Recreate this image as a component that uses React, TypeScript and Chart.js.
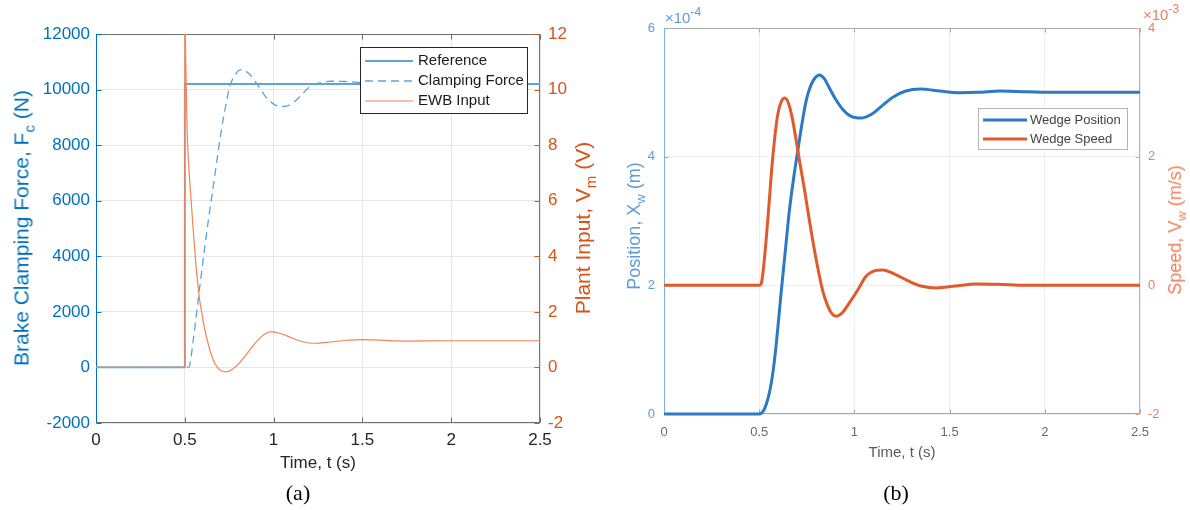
import React, { useEffect, useRef } from "react";
import { Chart, registerables } from "chart.js";

Chart.register(...registerables);

// ---------------- Panel (a) data ----------------
const timeTicks = [0, 0.5, 1, 1.5, 2, 2.5];
const forceTicks = [-2000, 0, 2000, 4000, 6000, 8000, 10000, 12000];
const voltTicks = [-2, 0, 2, 4, 6, 8, 10, 12];

const refTime = [0, 0.5, 0.5, 2.5];
const referenceForce = [0, 0, 10200, 10200];

const clampTime = [0, 0.52, 0.53, 0.545, 0.566, 0.59, 0.613, 0.636, 0.66, 0.683, 0.706, 0.73, 0.753, 0.785, 0.819, 0.86, 0.903, 0.94, 0.969, 1.01, 1.053, 1.1, 1.15, 1.204, 1.26, 1.32, 1.4, 1.5, 1.65, 1.8, 2.0, 2.5];
const clampingForce = [0, 0, 150, 850, 1950, 3200, 4350, 5450, 6500, 7550, 8550, 9400, 10100, 10550, 10715, 10580, 10230, 9880, 9640, 9440, 9390, 9480, 9760, 10100, 10240, 10300, 10290, 10250, 10200, 10180, 10200, 10200];

const ewbTime = [0, 0.5, 0.5, 0.5056, 0.513, 0.523, 0.534, 0.548, 0.562, 0.581, 0.6, 0.613, 0.64, 0.669, 0.7, 0.728, 0.76, 0.8, 0.847, 0.875, 0.9, 0.95, 0.99, 1.04, 1.1, 1.15, 1.2, 1.233, 1.3, 1.4, 1.5, 1.6, 1.75, 2.0, 2.5];
const ewbInput = [0, 0, 12.8, 10.95, 8.55, 7.2, 6.15, 4.9, 3.75, 2.55, 1.8, 1.35, 0.65, 0.14, -0.1, -0.16, -0.1, 0.11, 0.47, 0.7, 0.9, 1.2, 1.29, 1.22, 1.07, 0.95, 0.88, 0.87, 0.9, 0.97, 1.0, 0.98, 0.95, 0.96, 0.96];

// ---------------- Panel (b) data ----------------
const positionTicks = [0, 2, 4, 6]; // x 10^-4 m
const speedTicks = [-2, 0, 2, 4]; // x 10^-3 m/s

const posTime = [0, 0.5, 0.52, 0.54, 0.555, 0.57, 0.59, 0.614, 0.636, 0.658, 0.68, 0.702, 0.724, 0.746, 0.77, 0.795, 0.816, 0.84, 0.87, 0.9, 0.94, 0.98, 1.035, 1.09, 1.137, 1.2, 1.27, 1.347, 1.45, 1.553, 1.65, 1.763, 1.9, 2.079, 2.5];
const wedgePosition = [0, 0, 0.04, 0.18, 0.35, 0.6, 1.1, 1.85, 2.5, 3.15, 3.65, 4.08, 4.5, 4.86, 5.1, 5.23, 5.27, 5.22, 5.06, 4.9, 4.73, 4.63, 4.6, 4.66, 4.77, 4.92, 5.02, 5.05, 5.02, 4.995, 5.0, 5.02, 5.01, 5.0, 5.0];

const speedTime = [0, 0.5, 0.51, 0.52, 0.535, 0.55, 0.57, 0.596, 0.615, 0.635, 0.655, 0.675, 0.711, 0.74, 0.763, 0.79, 0.816, 0.835, 0.855, 0.875, 0.904, 0.935, 0.974, 1.02, 1.061, 1.1, 1.149, 1.2, 1.289, 1.35, 1.43, 1.53, 1.64, 1.75, 1.9, 2.5];
const wedgeSpeed = [0, 0, 0.02, 0.2, 0.66, 1.2, 1.95, 2.63, 2.85, 2.91, 2.82, 2.58, 1.95, 1.45, 1.02, 0.55, 0.15, -0.1, -0.28, -0.41, -0.48, -0.43, -0.27, -0.06, 0.14, 0.22, 0.24, 0.19, 0.06, -0.01, -0.04, -0.01, 0.02, 0.015, 0, 0];

const SANS = "'Liberation Sans', Arial, Helvetica, sans-serif";

const pts = (xs: number[], ys: number[]) => xs.map((x, i) => ({ x, y: ys[i] }));

type FrameOpts = { top: string; bottom: string; left: string; right: string; tick: number };

function makeFramePlugin(o: FrameOpts) {
  return {
    id: "frame",
    beforeDatasetsDraw(chart: any) {
      const { ctx, chartArea: a } = chart;
      const xs = chart.scales.x;
      const yl = chart.scales.y;
      const yr = chart.scales.y2;
      const L = Math.round(a.left) + 0.5;
      const R = Math.round(a.right) - 0.5;
      const T = Math.round(a.top) + 0.5;
      const B = Math.round(a.bottom) - 0.5;
      ctx.save();
      ctx.lineWidth = 1;
      const seg = (x0: number, y0: number, x1: number, y1: number, c: string) => {
        ctx.strokeStyle = c;
        ctx.beginPath();
        ctx.moveTo(x0, y0);
        ctx.lineTo(x1, y1);
        ctx.stroke();
      };
      seg(L, T, R, T, o.top);
      seg(L, B, R, B, o.bottom);
      xs.ticks.forEach((t: any) => {
        const px = Math.round(xs.getPixelForValue(t.value)) + 0.5;
        seg(px, B, px, B - o.tick, o.bottom);
        seg(px, T, px, T + o.tick, o.top);
      });
      yl.ticks.forEach((t: any) => {
        const py = Math.round(yl.getPixelForValue(t.value)) + 0.5;
        seg(L, py, L + o.tick, py, o.left);
      });
      yr.ticks.forEach((t: any) => {
        const py = Math.round(yr.getPixelForValue(t.value)) + 0.5;
        seg(R, py, R - o.tick, py, o.right);
      });
      seg(L, T - 0.5, L, B + 0.5, o.left);
      seg(R, T - 0.5, R, B + 0.5, o.right);
      ctx.restore();
    },
  };
}

type LegendOpts = {
  x: number; y: number; w: number; h: number; rowY: number[];
  lineX0: number; lineX1: number; textX: number; font: string; color: string; border: string;
};

function makeLegendPlugin(o: LegendOpts) {
  return {
    id: "boxLegend",
    afterDraw(chart: any) {
      const ctx = chart.ctx;
      ctx.save();
      ctx.fillStyle = "#ffffff";
      ctx.fillRect(o.x, o.y, o.w, o.h);
      ctx.strokeStyle = o.border;
      ctx.lineWidth = 1;
      ctx.strokeRect(o.x + 0.5, o.y + 0.5, o.w - 1, o.h - 1);
      chart.data.datasets.forEach((ds: any, i: number) => {
        const y = o.rowY[i];
        ctx.strokeStyle = ds.borderColor;
        ctx.lineWidth = ds.borderWidth;
        ctx.setLineDash(ds.borderDash || []);
        ctx.beginPath();
        ctx.moveTo(o.lineX0, y);
        ctx.lineTo(o.lineX1, y);
        ctx.stroke();
        ctx.setLineDash([]);
        ctx.fillStyle = o.color;
        ctx.font = o.font;
        ctx.textBaseline = "middle";
        ctx.textAlign = "left";
        ctx.fillText(ds.label, o.textX, y);
      });
      ctx.restore();
    },
  };
}

const setTicks = (arr: number[]) => (s: any) => {
  s.ticks = arr.map((v) => ({ value: v }));
};

// colours
const A_BLUE = "#0072BD";
const A_ORANGE = "#D95319";
const A_LINE_BLUE = "#5aa5dc";
const A_LINE_ORANGE = "#ef8456";
const A_GRID = "#e6e6e6";
const A_FRAME = "#6e6e6e";

const B_BLUE_LINE = "#2c79c4";
const B_ORANGE_LINE = "#e05a2b";
const B_BLUE_TXT = "#5f9bd6";
const B_ORANGE_TXT = "#ee7f5a";
const B_GREY_TXT = "#6a6a6a";
const B_GRID = "#eceef3";

export default function App() {
  const refA = useRef<HTMLCanvasElement>(null);
  const refB = useRef<HTMLCanvasElement>(null);

  useEffect(() => {
    const chartA = new Chart(refA.current as HTMLCanvasElement, {
      type: "line",
      data: {
        datasets: [
          {
            label: "Reference",
            data: pts(refTime, referenceForce),
            borderColor: A_LINE_BLUE,
            borderWidth: 1.8,
            pointRadius: 0,
            tension: 0,
            yAxisID: "y",
            order: 3,
          },
          {
            label: "Clamping Force",
            data: pts(clampTime, clampingForce),
            borderColor: A_LINE_BLUE,
            borderWidth: 1.3,
            borderDash: [8, 5],
            pointRadius: 0,
            cubicInterpolationMode: "monotone",
            yAxisID: "y",
            order: 2,
          },
          {
            label: "EWB Input",
            data: pts(ewbTime, ewbInput),
            borderColor: A_LINE_ORANGE,
            borderWidth: 1.2,
            pointRadius: 0,
            cubicInterpolationMode: "monotone",
            yAxisID: "y2",
            order: 1,
          },
        ] as any,
      },
      options: {
        responsive: false,
        animation: false,
        devicePixelRatio: 1,
        layout: { padding: { top: 34, bottom: 36, left: 0, right: 0 } },
        plugins: { legend: { display: false }, tooltip: { enabled: false } },
        scales: {
          x: {
            type: "linear",
            min: 0,
            max: 2.5,
            afterBuildTicks: setTicks(timeTicks),
            afterFit: (s: any) => { s.height = 51; },
            grid: { color: A_GRID, drawTicks: false },
            border: { display: false },
            ticks: {
              color: "#262626",
              padding: 7,
              maxRotation: 0,
              autoSkip: false,
              font: { family: SANS, size: 17 },
              callback: (v: any) => String(v),
            },
            title: {
              display: true,
              text: "Time, t (s)",
              color: "#262626",
              font: { family: SANS, size: 17 },
              padding: { top: 0, bottom: 0 },
            },
          },
          y: {
            type: "linear",
            position: "left",
            min: -2000,
            max: 12000,
            afterBuildTicks: setTicks(forceTicks),
            afterFit: (s: any) => { s.width = 96; },
            grid: { color: A_GRID, drawTicks: false },
            border: { display: false },
            ticks: {
              color: A_BLUE,
              padding: 6,
              font: { family: SANS, size: 17 },
              callback: (v: any) => String(v),
            },
          },
          y2: {
            type: "linear",
            position: "right",
            min: -2,
            max: 12,
            afterBuildTicks: setTicks(voltTicks),
            afterFit: (s: any) => { s.width = 55; },
            grid: { display: false, drawTicks: false },
            border: { display: false },
            ticks: {
              color: A_ORANGE,
              padding: 8,
              font: { family: SANS, size: 17 },
              callback: (v: any) => String(v),
            },
          },
        },
      } as any,
      plugins: [
        makeFramePlugin({ top: A_FRAME, bottom: A_FRAME, left: A_BLUE, right: A_ORANGE, tick: 5 }),
        makeLegendPlugin({
          x: 360, y: 47, w: 168, h: 67, rowY: [61, 81, 101],
          lineX0: 365, lineX1: 413, textX: 418,
          font: `15px ${SANS}`, color: "#1a1a1a", border: "#262626",
        }),
      ],
    });

    const chartB = new Chart(refB.current as HTMLCanvasElement, {
      type: "line",
      data: {
        datasets: [
          {
            label: "Wedge Position",
            data: pts(posTime, wedgePosition),
            borderColor: B_BLUE_LINE,
            borderWidth: 3,
            pointRadius: 0,
            cubicInterpolationMode: "monotone",
            yAxisID: "y",
            order: 2,
            clip: 3,
          },
          {
            label: "Wedge Speed",
            data: pts(speedTime, wedgeSpeed),
            borderColor: B_ORANGE_LINE,
            borderWidth: 3,
            pointRadius: 0,
            cubicInterpolationMode: "monotone",
            yAxisID: "y2",
            order: 1,
            clip: 3,
          },
        ] as any,
      },
      options: {
        responsive: false,
        animation: false,
        devicePixelRatio: 1,
        layout: { padding: { top: 28, bottom: 48, left: 0, right: 0 } },
        plugins: { legend: { display: false }, tooltip: { enabled: false } },
        scales: {
          x: {
            type: "linear",
            min: 0,
            max: 2.5,
            afterBuildTicks: setTicks(timeTicks),
            afterFit: (s: any) => { s.height = 48; },
            grid: { color: B_GRID, drawTicks: false },
            border: { display: false },
            ticks: {
              color: B_GREY_TXT,
              padding: 11,
              maxRotation: 0,
              autoSkip: false,
              font: { family: SANS, size: 13 },
              callback: (v: any) => String(v),
            },
            title: {
              display: true,
              text: "Time, t (s)",
              color: "#5a5a5a",
              font: { family: SANS, size: 15 },
              padding: { top: 0, bottom: 0 },
            },
          },
          y: {
            type: "linear",
            position: "left",
            min: 0,
            max: 6,
            afterBuildTicks: setTicks(positionTicks),
            afterFit: (s: any) => { s.width = 69; },
            grid: { color: B_GRID, drawTicks: false },
            border: { display: false },
            ticks: {
              color: B_BLUE_TXT,
              padding: 9,
              font: { family: SANS, size: 13 },
              callback: (v: any) => String(v),
            },
          },
          y2: {
            type: "linear",
            position: "right",
            min: -2,
            max: 4,
            afterBuildTicks: setTicks(speedTicks),
            afterFit: (s: any) => { s.width = 50; },
            grid: { display: false, drawTicks: false },
            border: { display: false },
            ticks: {
              color: B_ORANGE_TXT,
              padding: 8,
              font: { family: SANS, size: 13 },
              callback: (v: any) => String(v),
            },
          },
        },
      } as any,
      plugins: [
        makeFramePlugin({ top: "#a8a8a8", bottom: "#a8a8a8", left: "#7fb0e0", right: "#f2a283", tick: 4 }),
        makeLegendPlugin({
          x: 383, y: 108, w: 150, h: 42, rowY: [120, 139],
          lineX0: 388, lineX1: 432, textX: 435,
          font: `13px ${SANS}`, color: "#444444", border: "#b4b4b4",
        }),
      ],
    });

    return () => {
      chartA.destroy();
      chartB.destroy();
    };
  }, []);

  const sub: React.CSSProperties = { fontSize: "0.72em", position: "relative", top: "0.38em" };
  const rot = (cx: number, cy: number, color: string, size: number): React.CSSProperties => ({
    position: "absolute",
    left: cx,
    top: cy,
    transform: "translate(-50%, -50%) rotate(-90deg)",
    whiteSpace: "nowrap",
    color,
    fontFamily: SANS,
    fontSize: size,
    lineHeight: 1,
  });

  return (
    <div style={{ position: "fixed", left: 0, top: 0, width: 1190, height: 510, background: "#ffffff", overflow: "hidden" }}>
      <canvas ref={refA} width={595} height={510} style={{ position: "absolute", left: 0, top: 0, width: 595, height: 510 }} />
      <canvas ref={refB} width={595} height={510} style={{ position: "absolute", left: 595, top: 0, width: 595, height: 510 }} />

      <div style={rot(21, 228, A_BLUE, 21)}>
        Brake Clamping Force, F<span style={sub}>c</span> (N)
      </div>
      <div style={rot(582, 228, A_ORANGE, 21)}>
        Plant Input, V<span style={sub}>m</span> (V)
      </div>

      <div style={rot(634, 226, B_BLUE_TXT, 18)}>
        Position, X<span style={sub}>w</span> (m)
      </div>
      <div style={rot(1175, 230, B_ORANGE_TXT, 18)}>
        Speed, V<span style={sub}>w</span> (m/s)
      </div>

      <div style={{ position: "absolute", left: 665, top: 10, color: B_BLUE_TXT, fontFamily: SANS, fontSize: 15, lineHeight: 1, whiteSpace: "nowrap" }}>
        ×10<span style={{ fontSize: "0.8em", position: "relative", top: "-0.55em" }}>-4</span>
      </div>
      <div style={{ position: "absolute", left: 1143, top: 7, color: B_ORANGE_TXT, fontFamily: SANS, fontSize: 15, lineHeight: 1, whiteSpace: "nowrap" }}>
        ×10<span style={{ fontSize: "0.8em", position: "relative", top: "-0.55em" }}>-3</span>
      </div>

      <div style={{ position: "absolute", left: 298, top: 493, transform: "translate(-50%, -50%)", fontFamily: "'Liberation Serif', 'Times New Roman', serif", fontSize: 22, lineHeight: 1, color: "#000" }}>
        (a)
      </div>
      <div style={{ position: "absolute", left: 896, top: 493, transform: "translate(-50%, -50%)", fontFamily: "'Liberation Serif', 'Times New Roman', serif", fontSize: 22, lineHeight: 1, color: "#000" }}>
        (b)
      </div>
    </div>
  );
}
